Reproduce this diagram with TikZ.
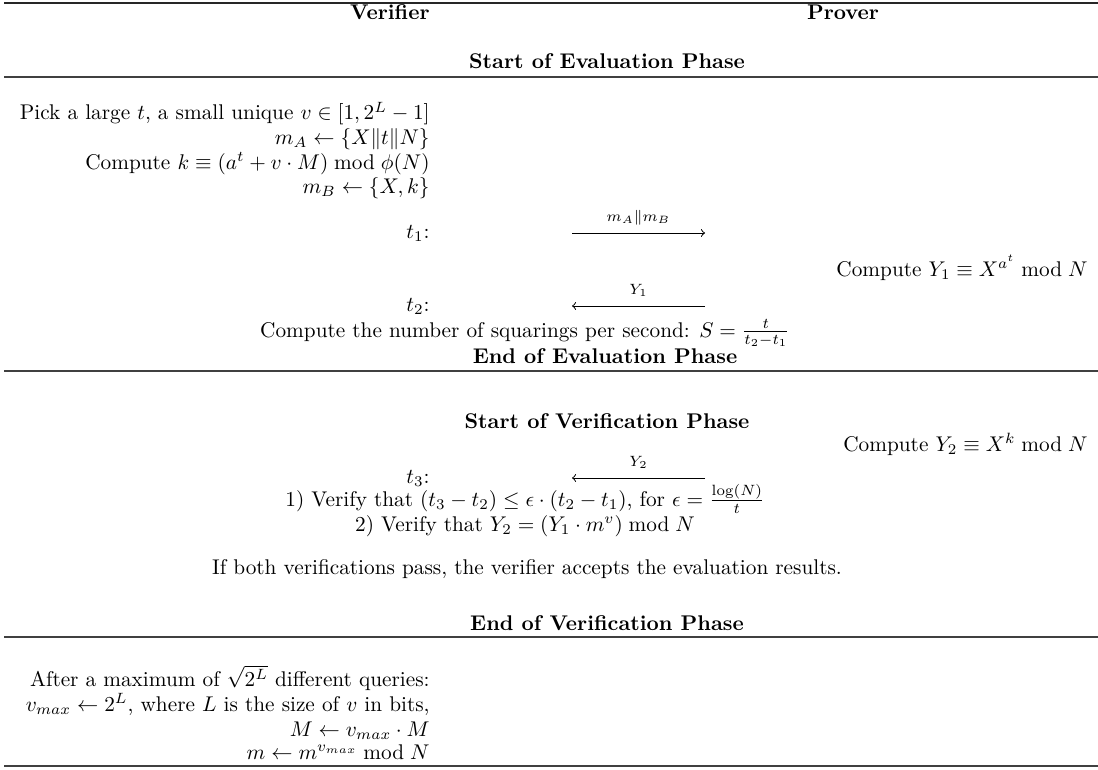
\documentclass[tikz,border=0pt]{standalone}
\usepackage{amsmath,amssymb}
\begin{document}
\begin{tikzpicture}[x=0.47pt,y=-0.47pt,
  rulex/.style={draw=black!75, line width=0.75pt},
  txt/.style={inner sep=0pt, font=\normalsize},
  R/.style={txt, anchor=base east},
  C/.style={txt, anchor=base},
  hd/.style={inner sep=0pt, anchor=base, font=\bfseries},
  msg/.style={->, >=to, line width=0.45pt},
  lbl/.style={inner sep=0pt, anchor=base, font=\scriptsize, yshift=5.4pt}]
\useasboundingbox (0,0) rectangle (1098,769);
% rules
\draw[rulex, draw=black!85] (4,3) -- (1098,3);
\draw[rulex] (4,77) -- (1098,77);
\draw[rulex] (4,371) -- (1098,371);
\draw[rulex] (4,637) -- (1098,637);
\draw[rulex] (4,766) -- (1098,766);
% header
\node[R, font=\bfseries] (ver) at (430,20) {Verifier};
\node[hd] (prov) at (843,20) {Prover};
\node[hd] (sep) at (607,69) {Start of Evaluation Phase};
% evaluation phase
\node[R] (pick) at (430,120) {Pick a large $t$, a small unique $v\in[1,2^L-1]$};
\node[R] (ma) at (430,144) {$m_A \leftarrow \{X\|t\|N\}$};
\node[R] (ck) at (430,169) {Compute $k\equiv(a^t+v\cdot M) \bmod \phi(N)$};
\node[R] (mb) at (430,193) {$m_B\leftarrow\{X,k\}$};
\node[R] (t1) at (430,238) {$t_1$:};
\coordinate (a1s) at (572,233);
\coordinate (a1e) at (705,233);
\draw[msg] (a1s) -- node[lbl] (l1) {$m_A\|m_B$} (a1e);
\node[R] (y1c) at (1088,276) {Compute $Y_1\equiv X^{a^t} \bmod N$};
\node[R] (t2) at (430,311) {$t_2$:};
\coordinate (a2s) at (705,306);
\coordinate (a2e) at (572,306);
\draw[msg] (a2s) -- node[lbl] (l2) {$Y_1$} (a2e);
\node[C] (sq) at (525,337) {Compute the number of squarings per second: $S=\frac{t}{t_2-t_1}$};
\node[hd] (eep) at (605,363) {End of Evaluation Phase};
% verification phase
\node[hd] (svp) at (607,428) {Start of Verification Phase};
\node[R] (y2c) at (1088,451) {Compute $Y_2\equiv X^k \bmod N$};
\node[R] (t3) at (430,483) {$t_3$:};
\coordinate (a3s) at (705,478);
\coordinate (a3e) at (572,478);
\draw[msg] (a3s) -- node[lbl] (l3) {$Y_2$} (a3e);
\node[C] (v1) at (525,506) {1) Verify that $(t_3-t_2)\le\epsilon\cdot(t_2-t_1)$, for $\epsilon=\frac{\log(N)}{t}$};
\node[C] (v2) at (525,531) {2) Verify that $Y_2=(Y_1\cdot m^v) \bmod N$};
\node[C] (both) at (527,574) {If both verifications pass, the verifier accepts the evaluation results.};
\node[hd] (evp) at (607,630) {End of Verification Phase};
% final
\node[R] (after) at (430,686) {After a maximum of $\sqrt{2^L}$ different queries:};
\node[R] (vmax) at (430,711) {$v_{max}\leftarrow 2^L$, where $L$ is the size of $v$ in bits,};
\node[R] (bigM) at (430,736) {$M\leftarrow v_{max}\cdot M$};
\node[R] (smallm) at (430,759) {$m\leftarrow m^{v_{max}} \bmod N$};
\end{tikzpicture}
\end{document}
